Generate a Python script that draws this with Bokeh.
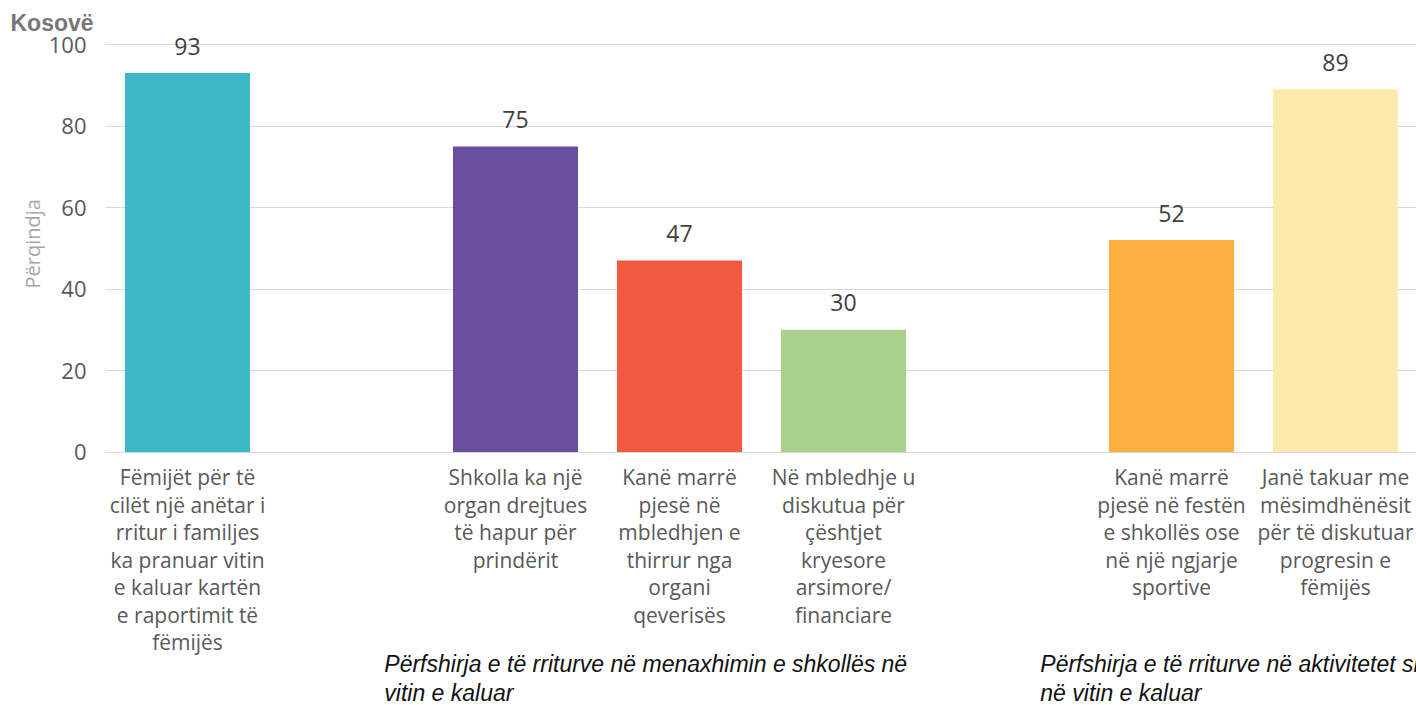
from bokeh.plotting import figure
from bokeh.models import ColumnDataSource, Range1d, FixedTicker, Title
from bokeh.core.properties import value
from bokeh.embed import file_html
from bokeh.resources import INLINE

# ---- data ----
categories = [
    "Fëmijët për të\ncilët një anëtar i\nrritur i familjes\nka pranuar vitin\ne kaluar kartën\ne raportimit të\nfëmijës",
    "Shkolla ka një\norgan drejtues\ntë hapur për\nprindërit",
    "Kanë marrë\npjesë në\nmbledhjen e\nthirrur nga\norgani\nqeverisës",
    "Në mbledhje u\ndiskutua për\nçështjet\nkryesore\narsimore/\nfinanciare",
    "Kanë marrë\npjesë në festën\ne shkollës ose\nnë një ngjarje\nsportive",
    "Janë takuar me\nmësimdhënësit\npër të diskutuar\nprogresin e\nfëmijës",
]
values = [93, 75, 47, 30, 52, 89]
colors = ["#3BB9C6", "#6A4FA1", "#F15A41", "#A9D18C", "#FBB040", "#FEEAAA"]
group_sizes = [1, 3, 2]
group_labels = [
    "",
    "Përfshirja e të rriturve në menaxhimin e shkollës në\nvitin e kaluar",
    "Përfshirja e të rriturve në aktivitetet shkollore\nnë vitin e kaluar",
]
y_ticks = [0, 20, 40, 60, 80, 100]
title_text = "Kosovë"
y_title = "Përqindja"

# ---- layout ----
xs = []
group_start = []
slot = 0
for n in group_sizes:
    group_start.append(slot)
    xs.extend(range(slot, slot + n))
    slot += n + 1

W, H = 1416, 705
left_border = 105
top_border = 35
px_per_slot = 164.0
px_per_unit = 4.075
frame_w = W - left_border
frame_h = H - top_border
x_start = -0.5
x_end = x_start + frame_w / px_per_slot
y_end = 100 + (44 - top_border) / px_per_unit
y_start = y_end - frame_h / px_per_unit

p = figure(width=W, height=H,
           x_range=Range1d(x_start, x_end), y_range=Range1d(y_start, y_end),
           output_backend="svg", toolbar_location=None, x_axis_location=None,
           min_border_left=left_border, min_border_right=0,
           min_border_top=top_border, min_border_bottom=0,
           outline_line_color=None, background_fill_color="white",
           border_fill_color="white")

p.title.text = title_text
p.title.align = "left"
p.title.offset = -95
p.title.standoff = 0
p.title.text_font = "Liberation Sans"
p.title.text_font_style = "bold"
p.title.text_font_size = "23px"
p.title.text_color = "#777777"

src = ColumnDataSource(dict(x=xs, v=values, c=colors, cat=categories,
                            vl=[str(v) for v in values]))

p.vbar(x="x", top="v", width=125 / px_per_slot, fill_color="c",
       line_color=None, source=src)

# value labels
p.text(x="x", y="v", text="vl", source=src, text_align="center",
       text_baseline="alphabetic", y_offset=-27,
       text_font=value("Open Sans"), text_font_size="23px",
       text_color="#404040")

# category labels
p.text(x="x", y=0, text="cat", source=src, text_align="center",
       text_baseline="top", y_offset=11, text_line_height=0.985,
       text_font=value("Open Sans"), text_font_size="21px",
       text_color="#595959")

# group labels
gx = [group_start[i] - 0.8 for i in range(len(group_sizes)) if group_labels[i]]
gt = [group_labels[i] for i in range(len(group_sizes)) if group_labels[i]]
p.text(x=gx, y=[0] * len(gx), text=gt, text_align="left",
       text_baseline="top", y_offset=199, text_line_height=1.12,
       text_font=value("Liberation Sans"), text_font_style="italic",
       text_font_size="23px", text_color="#111111")

# axes & grid
p.yaxis.ticker = FixedTicker(ticks=y_ticks)
p.yaxis.axis_line_color = None
p.yaxis.major_tick_line_color = None
p.yaxis.minor_tick_line_color = None
p.yaxis.major_label_standoff = 13
p.yaxis.major_label_text_font = "Open Sans"
p.yaxis.major_label_text_font_size = "22px"
p.yaxis.major_label_text_color = "#595959"
p.ygrid.ticker = FixedTicker(ticks=y_ticks)
p.ygrid.grid_line_color = "#d9d9d9"
p.ygrid.grid_line_width = 1
p.xgrid.visible = False

# y axis title, starting (bottom end) at the reference position
p.add_layout(Title(text=y_title, align="left",
                   offset=H - 288, standoff=0,
                   text_font="Open Sans", text_font_style="normal",
                   text_font_size="20px", text_color="#a6a6a6"), "left")

open("out.html", "w").write(file_html(p, INLINE))
